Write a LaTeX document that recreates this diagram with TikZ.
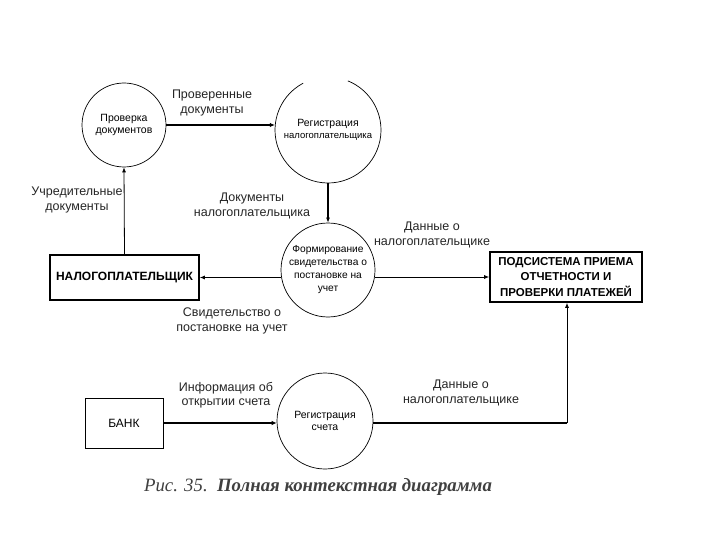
\documentclass[tikz,border=0pt]{standalone}
\usepackage{fontspec}
\setmainfont{Liberation Sans}
\newfontfamily\capfont{Liberation Serif}
\usetikzlibrary{arrows.meta}
\begin{document}
\begin{tikzpicture}[x=1pt,y=-1pt,
  proc/.style={circle,minimum size=#1,inner sep=0pt,align=center,font=\fontsize{10.5}{12}\selectfont},
  ent/.style={rectangle,draw,line width=1.6pt,inner sep=0pt,align=center},
  lbl/.style={align=center,font=\fontsize{12.5}{14.5}\selectfont,text=black!85},
  flow/.style={-{Latex[length=5pt,width=4pt]},line width=0.8pt},
  bflow/.style={-{Latex[length=5pt,width=4.5pt]},line width=2pt}]
\fill[white] (0,0) rectangle (720,540);
\useasboundingbox (0,0) rectangle (720,540);
% processes
\node[proc=84pt,draw,line width=0.7pt] (c1) at (124,125) {Проверка\\документов};
\node[proc=106pt] (c2) at (328,130) {Регистрация\\{\fontsize{9.5}{11}\selectfont налогоплательщика}};
\draw[line width=0.7pt] ([shift={(118:53pt)}]c2.center) arc[start angle=118,end angle=428,radius=53pt];
\node[proc=94pt,draw,line width=0.7pt,font=\fontsize{10.2}{13}\selectfont] (c3) at (328,270) {Формирование\\свидетельства о\\постановке на\\учет};
\node[proc=96pt,draw,line width=0.7pt] (c4) at (325,421) {Регистрация\\счета};
% entities
\node[ent,minimum width=149pt,minimum height=45pt,font=\bfseries\fontsize{12}{14}\selectfont] (tp) at (124.5,277.5) {НАЛОГОПЛАТЕЛЬЩИК};
\node[ent,minimum width=152pt,minimum height=50pt,font=\bfseries\fontsize{11.5}{15.5}\selectfont] (sub) at (566,277) {ПОДСИСТЕМА ПРИЕМА\\ОТЧЕТНОСТИ И\\ПРОВЕРКИ ПЛАТЕЖЕЙ};
\node[rectangle,draw,line width=0.8pt,minimum width=78pt,minimum height=50pt,font=\fontsize{12}{14}\selectfont] (bank) at (124,423) {БАНК};
% flows
\draw[bflow] (c1.east) -- (c1.east -| c2.west);
\draw[flow,line width=1.3pt] (c2.south) -- (c3.north);
\draw[flow] (c3.west |- tp.east) -- (tp.east);
\draw[flow] (c3.east |- sub.west) -- (sub.west);
\draw[flow] (tp.north) -- (c1.south);
\draw[bflow] (bank.east) -- (bank.east -| c4.west);
\coordinate (corner) at (567,423);
\draw[line width=2pt] (c4.east |- corner) -- (corner);
\draw[flow] (corner) -- (corner |- sub.south);
% labels
\node[lbl] (l1) at (212,103) {Проверенные\\документы};
\node[lbl] (l2) at (77,200) {Учредительные\\документы};
\node[lbl] (l3) at (252,206) {Документы\\налогоплательщика};
\node[lbl] (l4) at (432,235) {Данные о\\налогоплательщике};
\node[lbl] (l5) at (232,321) {Свидетельство о\\постановке на учет};
\node[lbl] (l6) at (226,395) {Информация об\\открытии счета};
\node[lbl] (l7) at (461,393) {Данные о\\налогоплательщике};
% caption
\node[font=\capfont\itshape\fontsize{18.8}{21}\selectfont,text=black!75] (cap) at (318,487) {Рис. 35.\ \ \textbf{Полная контекстная диаграмма}};
\end{tikzpicture}
\end{document}
